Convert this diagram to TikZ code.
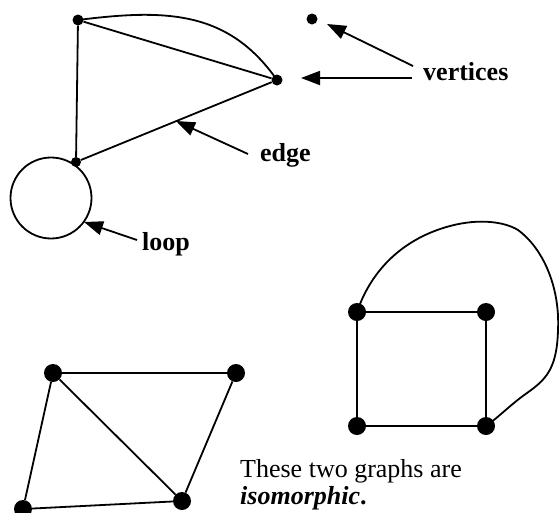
\documentclass[tikz,border=0pt]{standalone}
\usepackage{fontspec}
\setmainfont{Liberation Serif}
\usetikzlibrary{arrows.meta}
\begin{document}
\begin{tikzpicture}[x=1pt,y=-1pt,
  edgeline/.style={line width=1.8pt},
  sdot/.style={circle,fill=black,inner sep=0pt,minimum size=11pt},
  bdot/.style={circle,fill=black,inner sep=0pt,minimum size=18pt},
  pointer/.style={line width=1.8pt,-{Triangle[length=19pt,width=14pt]}},
  lbl/.style={anchor=base west,inner sep=0pt,font=\fontsize{26}{30}\selectfont\bfseries},
  txt/.style={anchor=base west,inner sep=0pt,font=\fontsize{26}{30}\selectfont}]
\useasboundingbox (0,0) rectangle (559,512);
% top graph
\node[sdot] (A) at (78,20) {};
\node[sdot] (B) at (277,80) {};
\node[sdot,minimum size=10pt] (C) at (76,162) {};
\node[sdot] (D) at (312,19) {};
\draw[edgeline] (A) -- (B);
\draw[edgeline] (A) -- (C);
\draw[edgeline] (C) -- (B);
\draw[edgeline] (A.center) .. controls (165,9) and (228,10) .. (B.center);
\draw[edgeline] (51,198) circle (40.5);
% labels
\node[lbl] (vert) at (423,80) {vertices};
\node[lbl] (edg) at (260,161) {edge};
\node[lbl] (lp) at (142,250) {loop};
\coordinate (v1) at (413,66);
\coordinate (v1t) at (327,24);
\coordinate (v2) at (412,78);
\coordinate (v2t) at (301,78);
\coordinate (e1) at (248,154);
\coordinate (e1t) at (176,121);
\coordinate (l1) at (137,240);
\coordinate (l1t) at (84,222);
\draw[pointer] (v1) -- (v1t);
\draw[pointer] (v2) -- (v2t);
\draw[pointer] (e1) -- (e1t);
\draw[pointer] (l1) -- (l1t);
% square graph
\node[bdot] (S1) at (357,312) {};
\node[bdot] (S2) at (486,312) {};
\node[bdot] (S3) at (486,426) {};
\node[bdot] (S4) at (357,426) {};
\draw[edgeline] (S1) -- (S2) -- (S3) -- (S4) -- (S1);
\draw[edgeline] (S1.center) .. controls (372,268) and (405,238) .. (450,226)
  .. controls (480,218) and (505,222) .. (518,230)
  .. controls (545,250) and (560,290) .. (558,330)
  .. controls (557,370) and (545,380) .. (527,393)
  .. controls (510,405) and (500,416) .. (S3.center);
% left graph
\node[bdot] (P1) at (53,373) {};
\node[bdot] (P2) at (236,373) {};
\node[bdot] (P3) at (182,501) {};
\node[bdot] (P4) at (23,509) {};
\draw[edgeline] (P1) -- (P2);
\draw[edgeline] (P1) -- (P4);
\draw[edgeline] (P1) -- (P3);
\draw[edgeline] (P2) -- (P3);
\draw[edgeline] (P4) -- (P3);
% caption
\node[txt] (t1) at (240,477) {These two graphs are};
\node[txt] (t2) at (240,504) {\textbf{\textit{isomorphic}.}};
\end{tikzpicture}
\end{document}
